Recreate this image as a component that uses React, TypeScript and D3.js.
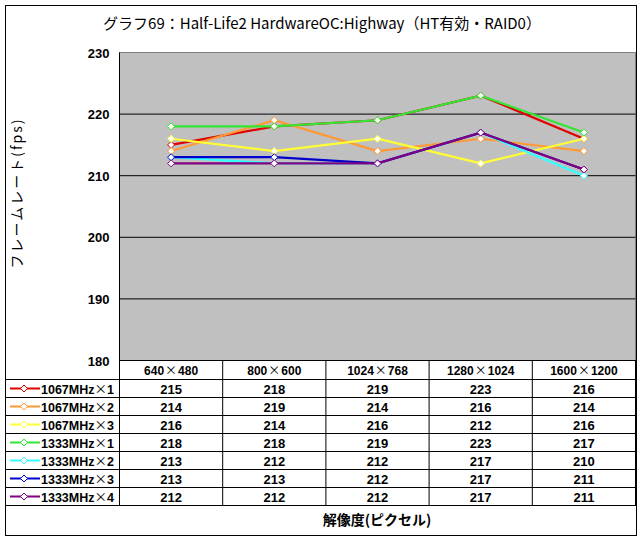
import React from "react";
import * as d3 from "d3";

const title = "グラフ69：Half-Life2 HardwareOC:Highway（HT有効・RAID0）";
const categories = ["640×480", "800×600", "1024×768", "1280×1024", "1600×1200"];
const seriesNames = ["1067MHz×1", "1067MHz×2", "1067MHz×3", "1333MHz×1", "1333MHz×2", "1333MHz×3", "1333MHz×4"];
const seriesColors = ["#e00000", "#ff9933", "#ffff33", "#33e633", "#33ffff", "#0000cc", "#800080"];
const v1067x1 = [215, 218, 219, 223, 216];
const v1067x2 = [214, 219, 214, 216, 214];
const v1067x3 = [216, 214, 216, 212, 216];
const v1333x1 = [218, 218, 219, 223, 217];
const v1333x2 = [213, 212, 212, 217, 210];
const v1333x3 = [213, 213, 212, 217, 211];
const v1333x4 = [212, 212, 212, 217, 211];
const seriesValues = [v1067x1, v1067x2, v1067x3, v1333x1, v1333x2, v1333x3, v1333x4];
const yTicks = [180, 190, 200, 210, 220, 230];
const yTitle = "フレームレート(fps)";
const xTitle = "解像度(ピクセル)";

const numFont = "'Liberation Sans', Arial, sans-serif";
const jpFont = "'Noto Sans CJK JP', sans-serif";

function Times({ s, gap = 1 }: { s: string; gap?: number }) {
  const parts = s.split("×");
  return (
    <>
      {parts.map((p, i) => (
        <React.Fragment key={i}>
          {i > 0 && <tspan fontFamily={jpFont} fontWeight="normal" dx={gap}>×</tspan>}
          <tspan dx={i > 0 ? gap : 0}>{p}</tspan>
        </React.Fragment>
      ))}
    </>
  );
}

export default function App() {
  const W = 643, H = 542;
  const frameL = 5.5, frameT = 5.5, frameR = 636.5, frameB = 535.5;
  const plotL = 119.5, plotR = 635.5, plotT = 52.5, plotB = 360.5;
  const headerB = 379.5, tableB = 505.5;
  const rowH = (tableB - headerB) / seriesNames.length;

  const x = d3.scaleBand<string>().domain(categories).range([plotL, plotR]);
  const y = d3.scaleLinear().domain([180, 230]).range([plotB, plotT]);
  const line = d3.line<number>()
    .x((_, i) => (x(categories[i]) as number) + x.bandwidth() / 2)
    .y((d) => y(d));

  const diamond = (cx: number, cy: number, r = 3.5) =>
    `M${cx},${cy - r}L${cx + r},${cy}L${cx},${cy + r}L${cx - r},${cy}Z`;

  return (
    <svg width={W} height={H} style={{ position: "absolute", left: 0, top: 0, background: "#fff" }}>
      <rect x={0} y={0} width={W} height={H} fill="#fff" />
      <rect x={frameL} y={frameT} width={frameR - frameL} height={frameB - frameT} fill="#fff" stroke="#000" strokeWidth={1} />
      <text x={322} y={29} textAnchor="middle" fontFamily={jpFont} fontSize={15} fill="#000">{title}</text>

      {/* plot area */}
      <rect x={plotL} y={plotT} width={plotR - plotL} height={plotB - plotT} fill="#c0c0c0" stroke="#808080" strokeWidth={1} />
      {yTicks.filter((t) => t !== 180 && t !== 230).map((t) => (
        <line key={t} x1={plotL} x2={plotR} y1={y(t)} y2={y(t)} stroke="#000" strokeWidth={1} />
      ))}
      <line x1={plotL} x2={plotL} y1={plotT} y2={tableB} stroke="#000" />
      {yTicks.map((t) => (
        <text key={t} x={plotL - 10} y={y(t) + 5} textAnchor="end" fontFamily={numFont} fontWeight="bold" fontSize={13} fill="#000">{t}</text>
      ))}

      {/* series */}
      {seriesValues.map((vals, si) => (
        <g key={si}>
          <path d={line(vals) || ""} fill="none" stroke={seriesColors[si]} strokeWidth={2.2} />
          {vals.map((v, i) => (
            <path key={i} d={diamond((x(categories[i]) as number) + x.bandwidth() / 2, y(v))} fill="#fff" stroke={seriesColors[si]} strokeWidth={1} />
          ))}
        </g>
      ))}

      {/* data table */}
      <line x1={plotL} x2={frameR} y1={plotB} y2={plotB} stroke="#000" />
      {categories.map((c) => (
        <g key={c}>
          <line x1={(x(c) as number) + x.bandwidth()} x2={(x(c) as number) + x.bandwidth()} y1={plotB} y2={tableB} stroke="#000" />
          <text x={(x(c) as number) + x.bandwidth() / 2} y={plotB + 14} textAnchor="middle" fontFamily={numFont} fontWeight="bold" fontSize={12} fill="#000"><Times s={c} /></text>
        </g>
      ))}
      {seriesNames.map((n, si) => {
        const top = headerB + si * rowH;
        return (
          <g key={n}>
            <line x1={frameL} x2={frameR} y1={top} y2={top} stroke="#000" />
            <line x1={10} x2={40} y1={top + rowH / 2} y2={top + rowH / 2} stroke={seriesColors[si]} strokeWidth={2} />
            <path d={diamond(24, top + rowH / 2)} fill="#fff" stroke={seriesColors[si]} strokeWidth={1} />
            <text x={41} y={top + rowH / 2 + 5} fontFamily={numFont} fontWeight="bold" fontSize={12.5} fill="#000"><Times s={n} gap={0} /></text>
            {seriesValues[si].map((v, i) => (
              <text key={i} x={(x(categories[i]) as number) + x.bandwidth() / 2} y={top + rowH / 2 + 5} textAnchor="middle" fontFamily={numFont} fontWeight="bold" fontSize={13} fill="#000">{v}</text>
            ))}
          </g>
        );
      })}
      <line x1={frameL} x2={frameR} y1={tableB} y2={tableB} stroke="#000" />

      <text x={377} y={525} textAnchor="middle" fontFamily={jpFont} fontWeight="bold" fontSize={14} fill="#000">{xTitle}</text>
      <text transform={`translate(22,193) rotate(-90)`} textAnchor="middle" fontFamily={jpFont} fontSize={14} letterSpacing={2} fill="#000">{yTitle}</text>
    </svg>
  );
}
